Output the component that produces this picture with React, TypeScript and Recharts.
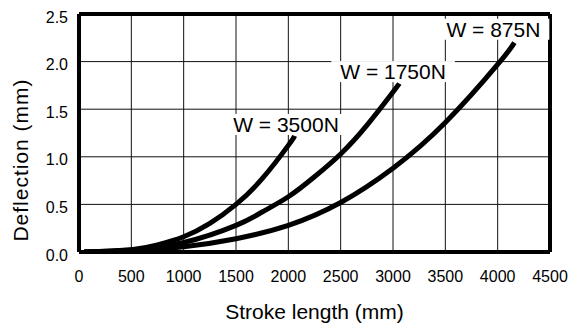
import React from "react";
import {
  LineChart,
  Line,
  XAxis,
  YAxis,
  CartesianGrid,
  ReferenceLine,
  ReferenceDot,
} from "recharts";

// Stroke length (mm) and deflection (mm) for each load
const stroke3500 = [50, 500, 750, 1000, 1250, 1500, 1750, 2000, 2060];
const defl3500 = [0, 0.025, 0.075, 0.16, 0.3, 0.5, 0.77, 1.12, 1.22];

const stroke1750 = [50, 500, 1000, 1500, 1750, 2000, 2250, 2500, 2750, 3000, 3060];
const defl1750 = [0, 0.02, 0.1, 0.28, 0.42, 0.58, 0.79, 1.03, 1.33, 1.68, 1.77];

const stroke875 = [50, 500, 1000, 1500, 2000, 2500, 3000, 3500, 4000, 4160];
const defl875 = [0, 0.012, 0.055, 0.14, 0.28, 0.52, 0.88, 1.36, 1.97, 2.2];

const xTicks = [0, 500, 1000, 1500, 2000, 2500, 3000, 3500, 4000, 4500];
const yTicks = [0, 0.5, 1.0, 1.5, 2.0, 2.5];

// Series annotations (text and data-space anchor at text's left baseline)
const labelTexts = ["W = 3500N", "W = 1750N", "W = 875N"];
const labelX = [1473, 2496, 3510];
const labelY = [1.261, 1.816, 2.261];

const toRows = (xs: number[], ys: number[]) => xs.map((x, i) => ({ x, y: ys[i] }));
const series = [
  { name: "3500", data: toRows(stroke3500, defl3500) },
  { name: "1750", data: toRows(stroke1750, defl1750) },
  { name: "875", data: toRows(stroke875, defl875) },
];

const FONT = "'Liberation Sans', Arial, Helvetica, sans-serif";
const LABEL_SIZE = 21;
const charW: Record<string, number> = { W: 0.944, " ": 0.278, "=": 0.584, N: 0.722 };
const textWidth = (s: string, size: number) =>
  s.split("").reduce((a, c) => a + (charW[c] ?? 0.556), 0) * size;

const makeLabelShape = (text: string) => (props: any) => {
  const { cx, cy } = props;
  const w = textWidth(text, LABEL_SIZE);
  const cap = LABEL_SIZE * 0.716;
  const padX = 9;
  return (
    <g>
      <rect x={cx - padX} y={cy - cap - 3} width={w + padX * 2} height={cap + 6} fill="#fff" />
      <text x={cx} y={cy} fontSize={LABEL_SIZE} fontFamily={FONT} fill="#000">
        {text}
      </text>
    </g>
  );
};

const YTick = (props: any) => {
  const { x, y, payload } = props;
  return (
    <text x={x} y={y + 3} dy="0.355em" textAnchor="end" fontSize={16} fontFamily={FONT} fill="#000">
      {Number(payload.value).toFixed(1)}
    </text>
  );
};

export default function App() {
  return (
    <div style={{ position: "absolute", left: 0, top: 0, width: 572, height: 324, background: "#fff" }}>
      <LineChart width={572} height={324} margin={{ top: 14, right: 22, bottom: 0, left: 0 }}>
        <CartesianGrid stroke="#111" strokeWidth={1} horizontalValues={yTicks} verticalValues={xTicks} />
        <XAxis
          type="number"
          dataKey="x"
          domain={[0, 4500]}
          ticks={xTicks}
          allowDataOverflow
          tickLine={false}
          axisLine={false}
          tickMargin={13}
          height={72}
          tick={{ fontSize: 16, fill: "#000", fontFamily: FONT }}
          label={{
            value: "Stroke length (mm)",
            position: "insideBottom",
            offset: 5,
            style: { fontSize: 21, fill: "#000", fontFamily: FONT },
          }}
        />
        <YAxis
          type="number"
          dataKey="y"
          domain={[0, 2.5]}
          ticks={yTicks}
          allowDataOverflow
          tickLine={false}
          axisLine={false}
          tickMargin={5}
          width={79}
          tick={<YTick />}
          label={{
            content: () => (
              <text
                x={0}
                y={0}
                transform="translate(28 160) rotate(-90)"
                textAnchor="middle"
                fontSize={21}
                letterSpacing={1}
                fontFamily={FONT}
                fill="#000"
              >
                Deflection (mm)
              </text>
            ),
          }}
        />
        {series.map((s) => (
          <Line
            key={s.name}
            data={s.data}
            dataKey="y"
            type="natural"
            stroke="#000"
            strokeWidth={5}
            dot={false}
            activeDot={false}
            isAnimationActive={false}
          />
        ))}
        {labelTexts.map((t, i) => (
          <ReferenceDot key={t} x={labelX[i]} y={labelY[i]} r={0} shape={makeLabelShape(t)} ifOverflow="visible" />
        ))}
        <ReferenceLine x={0} stroke="#000" strokeWidth={4} ifOverflow="visible" />
        <ReferenceLine x={4500} stroke="#000" strokeWidth={4} ifOverflow="visible" />
        <ReferenceLine y={0} stroke="#000" strokeWidth={4} ifOverflow="visible" />
        <ReferenceLine y={2.5} stroke="#000" strokeWidth={4} ifOverflow="visible" />
      </LineChart>
    </div>
  );
}
